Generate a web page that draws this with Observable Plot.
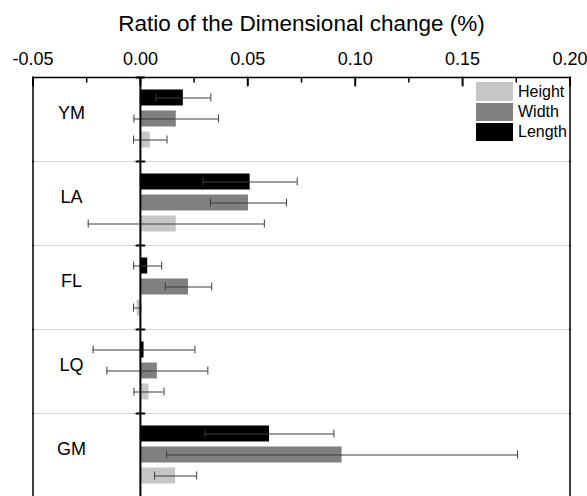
<!DOCTYPE html>
<html><head><meta charset="utf-8">
<script src="https://cdn.jsdelivr.net/npm/d3@7"></script>
<script src="https://cdn.jsdelivr.net/npm/@observablehq/plot@0.6"></script>
<style>
body{margin:0;background:#fff;font-family:"Liberation Sans",Arial,sans-serif;}
#wrap{position:relative;width:587px;height:496px;overflow:hidden;background:#fff;}
#legend{position:absolute;left:475.5px;top:81.5px;}
.row{display:flex;align-items:center;height:20.2px;}
.sw{width:37px;height:18.5px;}
.lab{margin-left:5.5px;font-size:16px;line-height:16px;color:#000;}
</style></head>
<body><div id="wrap"><div id="legend"></div></div>
<script>
const categories = ["YM", "LA", "FL", "LQ", "GM"];
const series = ["Length", "Width", "Height"];
const legendOrder = ["Height", "Width", "Length"];
const seriesColors = ["#000000", "#808080", "#c6c6c6"];
const lengthMean = [0.0200, 0.0511, 0.0034, 0.0017, 0.0601];
const widthMean  = [0.0167, 0.0503, 0.0224, 0.0079, 0.0939];
const heightMean = [0.0046, 0.0167, -0.0015, 0.0040, 0.0164];
const lengthErr = [0.0128, 0.0219, 0.0065, 0.0237, 0.0300];
const widthErr  = [0.0197, 0.0177, 0.0108, 0.0235, 0.0817];
const heightErr = [0.0078, 0.0410, 0.0017, 0.0070, 0.0098];
const xTicks = [-0.05, 0.00, 0.05, 0.10, 0.15, 0.20];
const xMinorTicks = [-0.025, 0.025, 0.075, 0.125, 0.175];
const title = "Ratio of the Dimensional change (%)";

const means = {Length: lengthMean, Width: widthMean, Height: heightMean};
const errs = {Length: lengthErr, Width: widthErr, Height: heightErr};
const table = [];
categories.forEach((c, i) => series.forEach(s => table.push({category: c, series: s, value: means[s][i], err: errs[s][i]})));

const lineShape = {draw(context, l) { context.moveTo(0, 0); context.lineTo(0, -l); }};
const errColor = "#3c3c3c";
const chart = Plot.plot({
  width: 587, height: 496,
  marginTop: 74.5, marginBottom: -3, marginLeft: 32.5, marginRight: 17.5,
  style: {fontFamily: "Liberation Sans, Arial, sans-serif", background: "#fff", color: "#000"},
  x: {domain: [-0.05, 0.20], axis: null},
  y: {domain: series, paddingInner: 0.225, paddingOuter: 0.61, axis: null},
  fy: {domain: categories, padding: 0, axis: null},
  color: {domain: series, range: seriesColors},
  marks: [
    Plot.frame({anchor: "top", stroke: "#c8c8c8", strokeDasharray: "2,2"}),
    Plot.barX(table, {x: "value", y: "series", fy: "category", fill: "series"}),
    Plot.ruleY(table, {y: "series", fy: "category", x1: d => d.value - d.err, x2: d => d.value + d.err, stroke: errColor, strokeWidth: 1}),
    Plot.tickX(table, {x: d => d.value - d.err, y: "series", fy: "category", stroke: errColor, insetTop: 4, insetBottom: 4}),
    Plot.tickX(table, {x: d => d.value + d.err, y: "series", fy: "category", stroke: errColor, insetTop: 4, insetBottom: 4}),
    Plot.ruleX([0], {stroke: "#000", strokeWidth: 2}),
    Plot.vector([0], {x: d => d, frameAnchor: "top", length: 8, rotate: 90, anchor: "middle", shape: lineShape, stroke: "#000", strokeWidth: 2}),
    Plot.frame({anchor: "left", strokeWidth: 1.5}),
    Plot.frame({anchor: "right", strokeWidth: 1.5}),
    Plot.frame({anchor: "top", strokeWidth: 1.5, facetAnchor: "top"}),
    Plot.vector(xTicks, {x: d => d, frameAnchor: "top", facetAnchor: "top", length: 8, rotate: 180, anchor: "start", shape: lineShape, stroke: "#000", strokeWidth: 2}),
    Plot.vector(xMinorTicks, {x: d => d, frameAnchor: "top", facetAnchor: "top", length: 4.5, rotate: 180, anchor: "start", shape: lineShape, stroke: "#000", strokeWidth: 1.5}),
    Plot.axisX({anchor: "top", ticks: xTicks, tickSize: 0, tickPadding: 13, tickFormat: d => d.toFixed(2), fontSize: 18, label: null}),
    Plot.axisFy({anchor: "left", tickSize: 0, textAnchor: "middle", dx: 47.5, dy: -6.5, fontSize: 18, label: null}),
    Plot.text([title], {frameAnchor: "top", facetAnchor: "top", dy: -54, fontSize: 22.5, lineAnchor: "middle"})
  ]
});
const wrap = document.getElementById("wrap");
wrap.insertBefore(chart, wrap.firstChild);

const legend = d3.select("#legend");
legendOrder.forEach(s => {
  const row = legend.append("div").attr("class", "row");
  row.append("div").attr("class", "sw").style("background", seriesColors[series.indexOf(s)]);
  row.append("div").attr("class", "lab").text(s);
});
</script>
</body></html>
